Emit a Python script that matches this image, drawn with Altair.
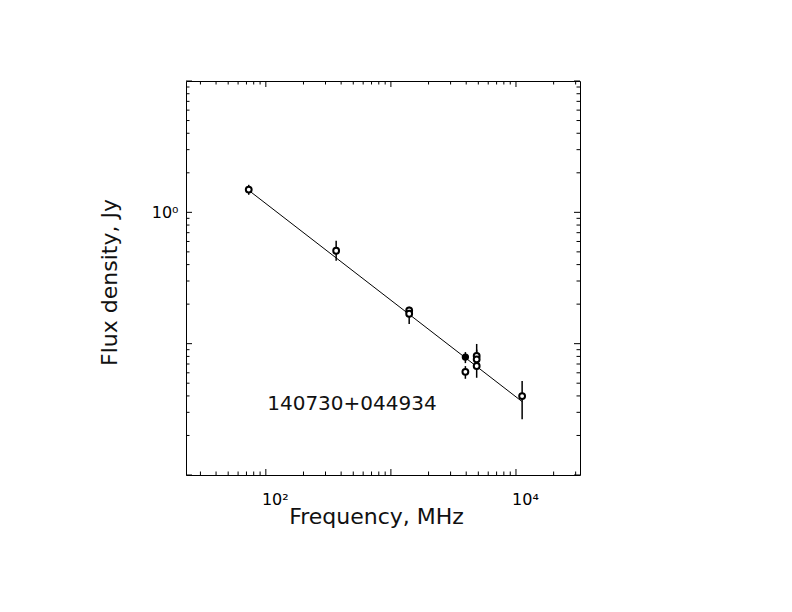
import altair as alt
import pandas as pd

# ---- data ----
freq_mhz = [73, 365, 1400, 1400, 3940, 3940, 4850, 4850, 4850, 11200]
flux_jy = [1.49, 0.510, 0.179, 0.169, 0.079, 0.061, 0.0805, 0.076, 0.0676, 0.0399]
err_lo = [1.36, 0.428, 0.167, 0.141, 0.0711, 0.054, 0.066, 0.064, 0.055, 0.0266]
err_hi = [1.62, 0.608, 0.191, 0.180, 0.0863, 0.0675, 0.0995, 0.090, 0.080, 0.052]
filled = [False, False, False, False, True, False, False, False, False, False]

fit_freq = [73, 11200]
fit_flux = [1.47, 0.0362]

label_text = ["140730+044934"]
label_freq = [488]
label_flux = [0.0312]

x_major = [100, 1000, 10000]
x_minor = [30, 40, 50, 60, 70, 80, 90,
           200, 300, 400, 500, 600, 700, 800, 900,
           2000, 3000, 4000, 5000, 6000, 7000, 8000, 9000,
           20000, 30000]
y_major = [0.01, 0.1, 1, 10]
y_minor = [0.02, 0.03, 0.04, 0.05, 0.06, 0.07, 0.08, 0.09,
           0.2, 0.3, 0.4, 0.5, 0.6, 0.7, 0.8, 0.9,
           2, 3, 4, 5, 6, 7, 8, 9]

W = 394
H = 394
FONT = "DejaVu Sans"

pts = pd.DataFrame({"freq": freq_mhz, "flux": flux_jy, "lo": err_lo,
                    "hi": err_hi, "filled": filled})
fit = pd.DataFrame({"freq": fit_freq, "flux": fit_flux})
lab = pd.DataFrame({"freq": label_freq, "flux": label_flux, "text": label_text})
xmaj = pd.DataFrame({"freq": x_major})
xmin = pd.DataFrame({"freq": x_minor})
ymaj = pd.DataFrame({"flux": y_major})
ymin = pd.DataFrame({"flux": y_minor})

xscale = alt.Scale(type="log", domain=[23, 32500], nice=False, zero=False)
yscale = alt.Scale(type="log", domain=[0.01, 10], nice=False, zero=False)

xaxis = alt.Axis(
    values=[100, 10000],
    labelExpr="datum.value == 100 ? '10²' : '10⁴'",
    ticks=False, tickSize=0, domain=False, grid=False,
    labelFont=FONT, labelFontSize=16, labelColor="black",
    labelAlign="center", labelOffset=9, labelBaseline="top", labelPadding=16,
    title="Frequency, MHz", titleFont=FONT, titleFontSize=22,
    titleFontWeight="normal", titleColor="#111111",
    titleX=190, titleY=48, titleAlign="center", titleBaseline="alphabetic",
)
yaxis = alt.Axis(
    values=[1],
    labelExpr="'10⁰'",
    ticks=False, tickSize=0, domain=False, grid=False,
    labelFont=FONT, labelFontSize=16, labelColor="black",
    labelAlign="right", labelBaseline="middle", labelPadding=8,
    title="Flux density, Jy", titleFont=FONT, titleFontSize=22,
    titleFontWeight="normal", titleColor="#111111",
    titleX=-70, titleY=201, titleAlign="center", titleBaseline="alphabetic",
    titleAngle=270,
)

X = alt.X("freq:Q", scale=xscale, axis=xaxis)
Y = alt.Y("flux:Q", scale=yscale, axis=yaxis)

line = alt.Chart(fit).mark_line(color="black", strokeWidth=1).encode(x=X, y=Y)

bars = alt.Chart(pts).mark_rule(color="black", strokeWidth=1.5).encode(
    x="freq:Q", y="lo:Q", y2="hi:Q")

open_pts = alt.Chart(pts).transform_filter("!datum.filled").mark_point(
    shape="circle", size=34, filled=True, fill="white", stroke="black",
    strokeWidth=2, opacity=1).encode(x="freq:Q", y="flux:Q")

full_pts = alt.Chart(pts).transform_filter("datum.filled").mark_point(
    shape="circle", size=34, filled=True, fill="black", stroke="black",
    strokeWidth=1.5, opacity=1).encode(x="freq:Q", y="flux:Q")

text = alt.Chart(lab).mark_text(font=FONT, fontSize=20, color="#111111",
                                align="center", baseline="alphabetic").encode(
    x="freq:Q", y="flux:Q", text="text:N")

MAJ = 6
MIN = 3.5


def xticks(df, length):
    bottom = alt.Chart(df).mark_rule(color="black", strokeWidth=1).encode(
        x="freq:Q", y=alt.value(H), y2=alt.value(H - length))
    top = alt.Chart(df).mark_rule(color="black", strokeWidth=1).encode(
        x="freq:Q", y=alt.value(0), y2=alt.value(length))
    return [bottom, top]


def yticks(df, length):
    left = alt.Chart(df).mark_rule(color="black", strokeWidth=1).encode(
        y="flux:Q", x=alt.value(0), x2=alt.value(length))
    right = alt.Chart(df).mark_rule(color="black", strokeWidth=1).encode(
        y="flux:Q", x=alt.value(W), x2=alt.value(W - length))
    return [left, right]


tick_layers = xticks(xmaj, MAJ) + xticks(xmin, MIN) + yticks(ymaj, MAJ) + yticks(ymin, MIN)

chart = alt.layer(line, bars, open_pts, full_pts, text, *tick_layers).properties(
    width=W, height=H,
    autosize=alt.AutoSizeParams(type="none"),
    padding={"left": 178, "top": 73, "right": 190, "bottom": 110},
    background="white",
).configure_view(stroke="black", strokeWidth=1)

chart.save("out.html", embed_options={"renderer": "svg", "actions": False})
